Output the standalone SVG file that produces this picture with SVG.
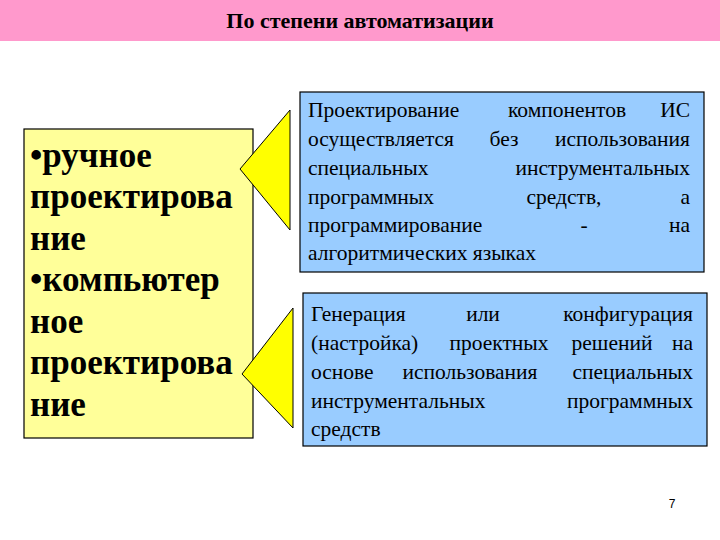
<svg xmlns="http://www.w3.org/2000/svg" width="720" height="540" viewBox="0 0 720 540">
<style>
.b{fill:#99ccff;stroke:#000;stroke-width:1.2}
.t{fill:#ffff00;stroke:#000;stroke-width:1}
text{font-family:"Liberation Serif","Times New Roman",Tinos,"DejaVu Serif",serif}
.s{font-size:21.5px;fill:#000}
.r{text-anchor:end}
.m{text-anchor:middle}
.l{font-size:35px;font-weight:bold;fill:#000}
</style>
<rect width="720" height="540" fill="#fff"/>
<rect x="0" y="0" width="720" height="41" fill="#ff99cc"/>
<text x="360" y="28" text-anchor="middle" font-size="22" font-weight="bold">По степени автоматизации</text>
<g id="left">
<rect x="24" y="129" width="229" height="309" fill="#ffff99" stroke="#000" stroke-width="1.2"/>
<text class="l"><tspan x="30" y="167">•ручное</tspan><tspan x="30" y="208">проектирова</tspan><tspan x="30" y="250">ние</tspan><tspan x="30" y="291">•компьютер</tspan><tspan x="30" y="333">ное</tspan><tspan x="30" y="374">проектирова</tspan><tspan x="30" y="416">ние</tspan></text>
</g>
<g id="connectors">
<polygon class="t" points="240,169 290,110 290,230"/>
<polygon class="t" points="242,374 293,308 293,428"/>
</g>
<g id="box1">
<rect class="b" x="300" y="92" width="404" height="180"/>
<text class="s" x="308" y="117">Проектирование</text><text class="s m" x="567" y="117">компонентов</text><text class="s r" x="690" y="117">ИС</text>
<text class="s" x="308" y="146">осуществляется</text><text class="s m" x="504" y="146">без</text><text class="s r" x="690" y="146">использования</text>
<text class="s" x="308" y="175">специальных</text><text class="s r" x="690" y="175">инструментальных</text>
<text class="s" x="308" y="204">программных</text><text class="s m" x="564" y="204">средств,</text><text class="s r" x="690" y="204">а</text>
<text class="s" x="308" y="232">программирование</text><text class="s m" x="584" y="232">-</text><text class="s r" x="690" y="232">на</text>
<text class="s" x="308" y="260">алгоритмических языках</text>
</g>
<g id="box2">
<rect class="b" x="303" y="293" width="404" height="153"/>
<text class="s" x="311" y="321">Генерация</text><text class="s m" x="483" y="321">или</text><text class="s r" x="693" y="321">конфигурация</text>
<text class="s" x="311" y="350">(настройка)</text><text class="s m" x="499" y="350">проектных</text><text class="s m" x="612" y="350">решений</text><text class="s r" x="693" y="350">на</text>
<text class="s" x="311" y="379">основе</text><text class="s m" x="470" y="379">использования</text><text class="s r" x="693" y="379">специальных</text>
<text class="s" x="311" y="408">инструментальных</text><text class="s r" x="693" y="408">программных</text>
<text class="s" x="311" y="436">средств</text>
</g>
<text x="672" y="508" style="font-family:'Liberation Sans',Arial,sans-serif" font-size="12" text-anchor="middle">7</text>
</svg>
